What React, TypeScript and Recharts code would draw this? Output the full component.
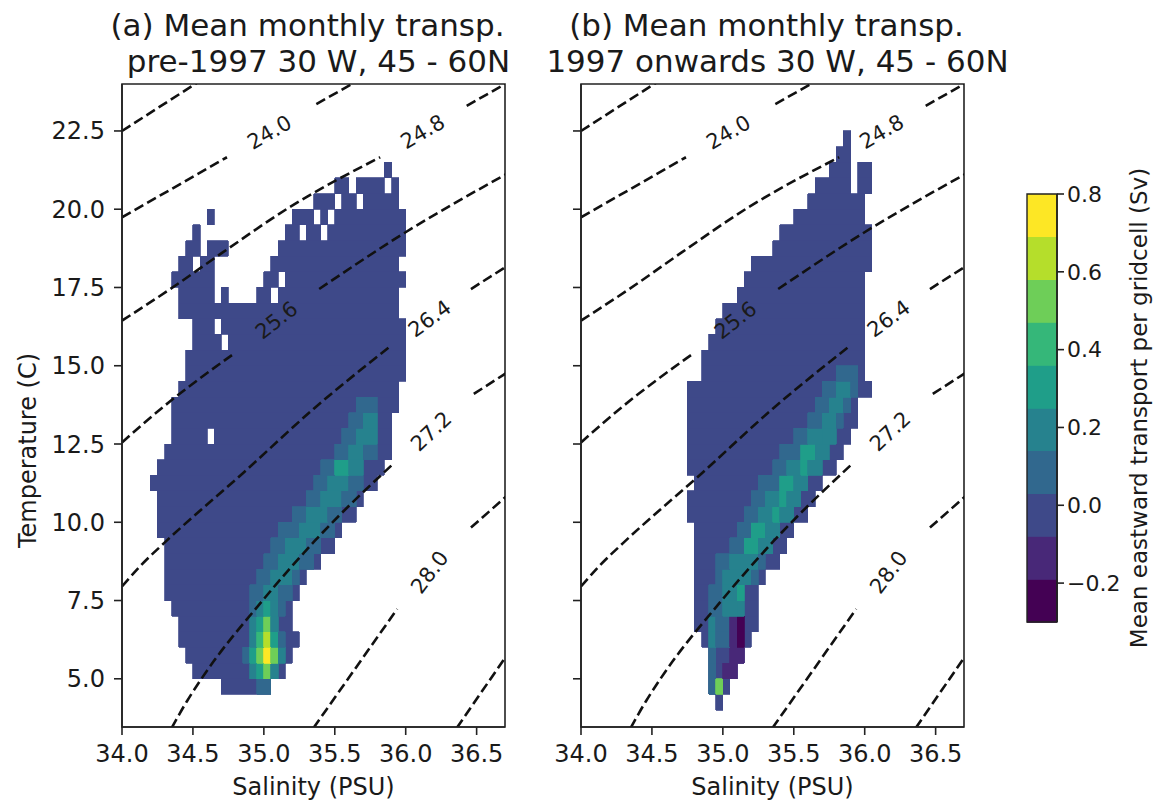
import { ComposedChart, XAxis, YAxis, Line, Scatter, ReferenceArea } from 'recharts';

// T-S diagram ranges
const S_DOMAIN: [number, number] = [34.0, 36.7];
const T_DOMAIN: [number, number] = [3.46, 24.0];
const S_TICKS = [34.0, 34.5, 35.0, 35.5, 36.0, 36.5];
const T_TICKS = [5.0, 7.5, 10.0, 12.5, 15.0, 17.5, 20.0, 22.5];
const T_BIN = 0.5;

// colour levels of the transport field (Sv)
const SV_LEVELS = [-0.3, -0.19, -0.08, 0.03, 0.14, 0.25, 0.36, 0.47, 0.58, 0.69, 0.8];
const SV_TICKS = [-0.2, 0.0, 0.2, 0.4, 0.6, 0.8];
const VIRIDIS = ['#440154', '#482878', '#3e4989', '#31688e', '#26828e', '#1f9e89', '#35b779', '#6ece58', '#b5de2b', '#fde725'];

type Cell = [number, number, number];
type Hot = [number, number, number, number];

// occupied gridcells, transport ~0 Sv: [T lower edge, S from, S to]
const pre1997Cells: Cell[] = [
  [4.5, 34.7, 35.05],
  [5.0, 34.5, 35.15],
  [5.5, 34.45, 35.2],
  [6.0, 34.4, 35.25],
  [6.5, 34.4, 35.2],
  [7.0, 34.35, 35.2],
  [7.5, 34.3, 35.25],
  [8.0, 34.3, 35.3],
  [8.5, 34.3, 35.4],
  [9.0, 34.3, 35.5],
  [9.5, 34.25, 35.55],
  [10.0, 34.25, 35.65],
  [10.5, 34.25, 35.7],
  [11.0, 34.2, 35.8],
  [11.5, 34.25, 35.85],
  [12.0, 34.3, 35.9],
  [12.5, 34.35, 34.6], [12.5, 34.65, 35.9],
  [13.0, 34.35, 35.9],
  [13.5, 34.35, 35.95],
  [14.0, 34.4, 35.95],
  [14.5, 34.45, 36.0],
  [15.0, 34.45, 36.0],
  [15.5, 34.5, 34.7], [15.5, 34.75, 36.0],
  [16.0, 34.5, 34.65], [16.0, 34.7, 36.0],
  [16.5, 34.4, 35.95],
  [17.0, 34.4, 34.65], [17.0, 34.7, 34.75], [17.0, 34.95, 35.05], [17.0, 35.1, 35.95],
  [17.5, 34.35, 34.65], [17.5, 35.0, 35.1], [17.5, 35.15, 36.0],
  [18.0, 34.4, 34.5], [18.0, 34.55, 34.65], [18.0, 35.05, 35.95],
  [18.5, 34.45, 34.55], [18.5, 34.6, 34.75], [18.5, 35.1, 36.0],
  [19.0, 34.5, 34.55], [19.0, 35.15, 35.25], [19.0, 35.3, 35.4], [19.0, 35.45, 36.0],
  [19.5, 34.6, 34.65], [19.5, 35.2, 35.35], [19.5, 35.4, 35.45], [19.5, 35.5, 36.0],
  [20.0, 35.35, 35.5], [20.0, 35.55, 35.65], [20.0, 35.7, 35.95],
  [20.5, 35.5, 35.6], [20.5, 35.65, 35.85], [20.5, 35.9, 35.95],
  [21.0, 35.85, 35.9],
];

// gridcells with non-zero transport: [T lower edge, S from, S to, Sv]
const pre1997Transport: Hot[] = [
  [4.5, 34.95, 35.05, 0.1],
  [5.0, 34.9, 34.95, 0.15], [5.0, 34.95, 35.0, 0.35], [5.0, 35.0, 35.05, 0.5], [5.0, 35.05, 35.1, 0.2],
  [5.5, 34.85, 34.9, 0.1], [5.5, 34.9, 34.95, 0.3], [5.5, 34.95, 35.0, 0.55], [5.5, 35.0, 35.05, 0.75], [5.5, 35.05, 35.1, 0.5], [5.5, 35.1, 35.15, 0.15],
  [6.0, 34.9, 34.95, 0.2], [6.0, 34.95, 35.0, 0.4], [6.0, 35.0, 35.05, 0.65], [6.0, 35.05, 35.1, 0.3], [6.0, 35.1, 35.15, 0.1],
  [6.5, 34.9, 34.95, 0.15], [6.5, 34.95, 35.0, 0.3], [6.5, 35.0, 35.05, 0.5], [6.5, 35.05, 35.1, 0.2],
  [7.0, 34.9, 34.95, 0.1], [7.0, 34.95, 35.0, 0.2], [7.0, 35.0, 35.05, 0.3], [7.0, 35.05, 35.1, 0.2], [7.0, 35.1, 35.15, 0.1],
  [7.5, 34.9, 35.0, 0.1], [7.5, 35.0, 35.1, 0.22], [7.5, 35.1, 35.2, 0.1],
  [8.0, 34.95, 35.05, 0.1], [8.0, 35.05, 35.2, 0.2], [8.0, 35.2, 35.25, 0.1],
  [8.5, 35.0, 35.1, 0.1], [8.5, 35.1, 35.25, 0.2], [8.5, 35.25, 35.35, 0.1],
  [9.0, 35.05, 35.15, 0.1], [9.0, 35.15, 35.3, 0.2], [9.0, 35.3, 35.4, 0.1],
  [9.5, 35.1, 35.25, 0.1], [9.5, 35.25, 35.4, 0.2], [9.5, 35.4, 35.5, 0.1],
  [10.0, 35.2, 35.3, 0.1], [10.0, 35.3, 35.45, 0.2], [10.0, 35.45, 35.55, 0.1],
  [10.5, 35.3, 35.4, 0.1], [10.5, 35.4, 35.55, 0.2], [10.5, 35.55, 35.65, 0.1],
  [11.0, 35.35, 35.45, 0.1], [11.0, 35.45, 35.6, 0.2], [11.0, 35.6, 35.7, 0.1],
  [11.5, 35.4, 35.5, 0.1], [11.5, 35.5, 35.6, 0.3], [11.5, 35.6, 35.7, 0.15],
  [12.0, 35.5, 35.6, 0.1], [12.0, 35.6, 35.7, 0.2], [12.0, 35.7, 35.8, 0.1],
  [12.5, 35.55, 35.65, 0.1], [12.5, 35.65, 35.8, 0.15],
  [13.0, 35.6, 35.7, 0.1], [13.0, 35.7, 35.8, 0.15],
  [13.5, 35.65, 35.8, 0.1],
];

const post1997Cells: Cell[] = [
  [4.0, 34.95, 35.0],
  [4.5, 34.9, 35.05],
  [5.0, 34.9, 35.1],
  [5.5, 34.9, 35.15],
  [6.0, 34.85, 35.2],
  [6.5, 34.8, 35.25],
  [7.0, 34.8, 35.25],
  [7.5, 34.8, 35.25],
  [8.0, 34.8, 35.3],
  [8.5, 34.8, 35.4],
  [9.0, 34.8, 35.45],
  [9.5, 34.8, 35.5],
  [10.0, 34.75, 35.6],
  [10.5, 34.75, 35.65],
  [11.0, 34.8, 35.7],
  [11.5, 34.75, 35.8],
  [12.0, 34.75, 35.85],
  [12.5, 34.75, 35.9],
  [13.0, 34.75, 35.95],
  [13.5, 34.75, 35.95],
  [14.0, 34.75, 36.05],
  [14.5, 34.85, 36.0],
  [15.0, 34.85, 36.0],
  [15.5, 34.9, 36.0],
  [16.0, 34.95, 36.0],
  [16.5, 35.0, 36.0],
  [17.0, 35.1, 36.0],
  [17.5, 35.15, 36.0],
  [18.0, 35.2, 36.05],
  [18.5, 35.35, 36.05],
  [19.0, 35.4, 36.05],
  [19.5, 35.5, 36.0],
  [20.0, 35.6, 36.0],
  [20.5, 35.65, 35.9], [20.5, 35.95, 36.05],
  [21.0, 35.75, 35.9], [21.0, 35.95, 36.05],
  [21.5, 35.8, 35.9],
  [22.0, 35.85, 35.9],
];

const post1997Transport: Hot[] = [
  [4.5, 34.9, 34.95, 0.1], [4.5, 34.95, 35.0, 0.55],
  [5.0, 34.9, 34.95, 0.1], [5.0, 35.0, 35.1, -0.15],
  [5.5, 34.9, 34.95, 0.1], [5.5, 35.05, 35.15, -0.15],
  [6.0, 34.9, 34.95, 0.15], [6.0, 34.95, 35.05, 0.1], [6.0, 35.05, 35.1, -0.15], [6.0, 35.1, 35.15, -0.25],
  [6.5, 34.9, 34.95, 0.15], [6.5, 34.95, 35.05, 0.1], [6.5, 35.05, 35.1, -0.15], [6.5, 35.1, 35.15, -0.25],
  [7.0, 34.9, 35.0, 0.1], [7.0, 35.0, 35.1, 0.2], [7.0, 35.1, 35.15, 0.15],
  [7.5, 34.9, 35.0, 0.1], [7.5, 35.0, 35.1, 0.2], [7.5, 35.1, 35.15, 0.3],
  [8.0, 34.95, 35.0, 0.1], [8.0, 35.0, 35.2, 0.2], [8.0, 35.2, 35.25, 0.1],
  [8.5, 34.95, 35.05, 0.1], [8.5, 35.05, 35.25, 0.2], [8.5, 35.25, 35.3, 0.1],
  [9.0, 35.05, 35.15, 0.1], [9.0, 35.15, 35.25, 0.28], [9.0, 35.25, 35.35, 0.15],
  [9.5, 35.1, 35.2, 0.1], [9.5, 35.2, 35.3, 0.3], [9.5, 35.3, 35.4, 0.15],
  [10.0, 35.15, 35.25, 0.1], [10.0, 35.25, 35.35, 0.2], [10.0, 35.35, 35.4, 0.3], [10.0, 35.4, 35.5, 0.15],
  [10.5, 35.2, 35.3, 0.1], [10.5, 35.3, 35.4, 0.2], [10.5, 35.4, 35.45, 0.3], [10.5, 35.45, 35.55, 0.15],
  [11.0, 35.25, 35.4, 0.1], [11.0, 35.4, 35.5, 0.3], [11.0, 35.5, 35.6, 0.15],
  [11.5, 35.35, 35.45, 0.1], [11.5, 35.45, 35.55, 0.2], [11.5, 35.55, 35.6, 0.3], [11.5, 35.6, 35.7, 0.15],
  [12.0, 35.4, 35.55, 0.1], [12.0, 35.55, 35.65, 0.3], [12.0, 35.65, 35.75, 0.15],
  [12.5, 35.5, 35.6, 0.1], [12.5, 35.6, 35.7, 0.2], [12.5, 35.7, 35.8, 0.15],
  [13.0, 35.6, 35.7, 0.1], [13.0, 35.7, 35.8, 0.2], [13.0, 35.8, 35.85, 0.1],
  [13.5, 35.65, 35.75, 0.1], [13.5, 35.75, 35.85, 0.2], [13.5, 35.85, 35.9, 0.1],
  [14.0, 35.7, 35.8, 0.1], [14.0, 35.8, 35.9, 0.2], [14.0, 35.9, 35.95, 0.1],
  [14.5, 35.8, 35.95, 0.1],
];

// sigma-t isopycnals as [S, T] points, broken where the inline labels sit
const sigma232 = [[[34.0, 22.5], [34.55, 24.1]]];
const sigma240 = [[[34.0, 19.74], [34.74, 21.66]], [[35.37, 23.36], [35.66, 24.1]]];
const sigma248 = [
  [[34.0, 16.44], [34.34, 17.45], [34.71, 18.62], [35.18, 20.06], [35.82, 21.66]],
  [[36.43, 23.3], [36.72, 24.05]],
];
const sigma256 = [
  [[34.0, 12.55], [34.3, 13.72], [34.8, 15.42]],
  [[35.39, 17.45], [35.98, 19.21], [36.72, 21.15]],
];
const sigma264 = [
  [[34.0, 7.95], [34.13, 8.61], [34.3, 9.35], [34.86, 11.6], [35.35, 13.62], [35.88, 15.58]],
  [[36.46, 17.45], [36.72, 18.2]],
];
const sigma272 = [
  [[34.35, 3.43], [34.46, 4.3], [34.56, 5.0], [35.0, 7.55], [35.36, 9.41], [35.91, 11.86]],
  [[36.48, 14.1], [36.72, 14.8]],
];
const sigma280 = [[[35.35, 3.43], [35.94, 7.23]], [[36.46, 9.83], [36.72, 10.87]]];
const sigma288 = [[[36.36, 3.43], [36.72, 5.8]]];

const contourLabels = [
  { s: 35.04, t: 22.45, text: '24.0' },
  { s: 36.12, t: 22.47, text: '24.8' },
  { s: 35.09, t: 16.45, text: '25.6' },
  { s: 36.17, t: 16.5, text: '26.4' },
  { s: 36.18, t: 12.9, text: '27.2' },
  { s: 36.17, t: 8.4, text: '28.0' },
];

const isopycnals = [sigma232, sigma240, sigma248, sigma256, sigma264, sigma272, sigma280, sigma288]
  .flat()
  .map((seg) => seg.map(([s, t]) => ({ s, t })));

const FONT = '"DejaVu Sans", Verdana, sans-serif';
const INK = '#1a1a1a';
const LABEL_TILT: Record<string, number> = {
  '24.0': -30, '24.8': -30, '25.6': -38, '26.4': -36, '27.2': -43, '28.0': -53,
};

const colorFor = (v: number) => {
  for (let k = 0; k < VIRIDIS.length; k++) {
    if (v < SV_LEVELS[k + 1]) return VIRIDIS[k];
  }
  return VIRIDIS[VIRIDIS.length - 1];
};

const ContourLabel = (props: any) => {
  const { cx, cy, payload } = props;
  return (
    <text
      x={cx}
      y={cy}
      transform={`rotate(${LABEL_TILT[payload.text]} ${cx} ${cy})`}
      textAnchor="middle"
      dominantBaseline="central"
      fontSize={21}
      fontFamily={FONT}
      fill={INK}
    >
      {payload.text}
    </text>
  );
};

// y label sits a little below the middle of the axis
const TempTitle = (props: any) => {
  const { viewBox } = props;
  const x = viewBox.x + 6;
  const y = viewBox.y + viewBox.height * 0.57;
  return (
    <text
      x={x}
      y={y}
      transform={`rotate(-90 ${x} ${y})`}
      textAnchor="middle"
      dominantBaseline="central"
      fontSize={24}
      fontFamily={FONT}
      fill={INK}
    >
      Temperature (C)
    </text>
  );
};

const axisStroke = { stroke: '#222', strokeWidth: 1.6 };
const tickFont = { fill: INK, fontSize: 24, fontFamily: FONT };

interface PanelProps {
  cells: Cell[];
  transport: Hot[];
  width: number;
  margin: { top: number; right: number; bottom: number; left: number };
  yAxisWidth: number;
  showTemp: boolean;
}

const TSPanel = ({ cells, transport, width, margin, yAxisWidth, showTemp }: PanelProps) => {
  const base = colorFor(0);
  return (
    <ComposedChart width={width} height={801} margin={margin}>
      <XAxis
        type="number"
        dataKey="s"
        domain={S_DOMAIN}
        ticks={S_TICKS}
        interval={0}
        allowDataOverflow
        height={40}
        tickSize={8}
        tickMargin={10}
        tick={tickFont}
        tickLine={axisStroke}
        axisLine={axisStroke}
        tickFormatter={(v: number) => v.toFixed(1)}
        label={{ value: 'Salinity (PSU)', position: 'bottom', offset: 11, fill: INK, fontSize: 24, fontFamily: FONT }}
      />
      <YAxis
        type="number"
        dataKey="t"
        domain={T_DOMAIN}
        ticks={T_TICKS}
        interval={0}
        allowDataOverflow
        width={yAxisWidth}
        tickSize={8}
        tickMargin={9}
        tick={tickFont}
        tickLine={axisStroke}
        axisLine={axisStroke}
        tickFormatter={(v: number) => (showTemp ? v.toFixed(1) : '')}
        label={showTemp ? <TempTitle /> : undefined}
      />
      {cells.map(([t, s0, s1], i) => (
        <ReferenceArea
          key={`c${i}`}
          x1={s0}
          x2={s1}
          y1={t}
          y2={t + T_BIN}
          fill={base}
          fillOpacity={1}
          stroke={base}
          strokeWidth={0.8}
          shapeRendering="crispEdges"
          ifOverflow="visible"
        />
      ))}
      {transport.map(([t, s0, s1, v], i) => (
        <ReferenceArea
          key={`h${i}`}
          x1={s0}
          x2={s1}
          y1={t}
          y2={t + T_BIN}
          fill={colorFor(v)}
          fillOpacity={1}
          stroke={colorFor(v)}
          strokeWidth={0.8}
          shapeRendering="crispEdges"
          ifOverflow="visible"
        />
      ))}
      <ReferenceArea
        x1={S_DOMAIN[0]}
        x2={S_DOMAIN[1]}
        y1={T_DOMAIN[0]}
        y2={T_DOMAIN[1]}
        fill="none"
        stroke="#222"
        strokeWidth={1.6}
        ifOverflow="visible"
      />
      {isopycnals.map((seg, i) => (
        <Line
          key={`iso${i}`}
          data={seg}
          dataKey="t"
          type="monotone"
          stroke="#111"
          strokeWidth={2.6}
          strokeDasharray="10 4.5"
          dot={false}
          activeDot={false}
          isAnimationActive={false}
        />
      ))}
      <Scatter data={contourLabels} shape={ContourLabel} isAnimationActive={false} />
    </ComposedChart>
  );
};

const ColorBar = () => (
  <ComposedChart width={155} height={801} margin={{ top: 194, right: 8, bottom: 179, left: 27 }}>
    <XAxis type="number" dataKey="x" domain={[0, 1]} allowDataOverflow hide />
    <YAxis
      type="number"
      orientation="right"
      domain={[SV_LEVELS[0], SV_LEVELS[SV_LEVELS.length - 1]]}
      allowDataOverflow
      ticks={SV_TICKS}
      interval={0}
      width={90}
      tickSize={7}
      tickMargin={3}
      tick={{ fill: INK, fontSize: 22, fontFamily: FONT }}
      tickLine={axisStroke}
      axisLine={axisStroke}
      tickFormatter={(v: number) => v.toFixed(1).replace('-', '\u2212')}
      label={{
        value: 'Mean eastward transport per gridcell (Sv)',
        angle: -90,
        position: 'insideRight',
        offset: 8,
        fill: INK,
        fontSize: 23,
        fontFamily: FONT,
        style: { textAnchor: 'middle' },
      }}
    />
    {VIRIDIS.map((c, i) => (
      <ReferenceArea
        key={c}
        x1={0}
        x2={1}
        y1={SV_LEVELS[i]}
        y2={SV_LEVELS[i + 1]}
        fill={c}
        fillOpacity={1}
        stroke={c}
        strokeWidth={0.8}
        shapeRendering="crispEdges"
        ifOverflow="visible"
      />
    ))}
    <ReferenceArea
      x1={0}
      x2={1}
      y1={SV_LEVELS[0]}
      y2={SV_LEVELS[SV_LEVELS.length - 1]}
      fill="none"
      stroke="#222"
      strokeWidth={1.4}
      ifOverflow="visible"
    />
  </ComposedChart>
);

export default function App() {
  return (
    <div style={{ position: 'absolute', left: 0, top: 0, width: 1155, height: 801, background: '#fff', overflow: 'hidden' }}>
      <div style={{ position: 'absolute', left: 0, top: 0 }}>
        <TSPanel
          cells={pre1997Cells}
          transport={pre1997Transport}
          width={540}
          margin={{ top: 84, right: 35, bottom: 34, left: 22 }}
          yAxisWidth={100}
          showTemp
        />
      </div>
      <div style={{ position: 'absolute', left: 540, top: 0 }}>
        <TSPanel
          cells={post1997Cells}
          transport={post1997Transport}
          width={460}
          margin={{ top: 84, right: 36, bottom: 34, left: 11 }}
          yAxisWidth={30}
          showTemp={false}
        />
      </div>
      <div style={{ position: 'absolute', left: 1000, top: 0 }}>
        <ColorBar />
      </div>
      <svg width={1155} height={801} style={{ position: 'absolute', left: 0, top: 0, pointerEvents: 'none' }}>
        <g fontFamily={FONT} fontSize={31} fill={INK} textAnchor="middle">
          <text x={307.5} y={36}>(a) Mean monthly transp.</text>
          <text x={318.5} y={72}>pre-1997 30 W, 45 - 60N</text>
          <text x={766.5} y={36}>(b) Mean monthly transp.</text>
          <text x={777.5} y={72}>1997 onwards 30 W, 45 - 60N</text>
        </g>
      </svg>
    </div>
  );
}
